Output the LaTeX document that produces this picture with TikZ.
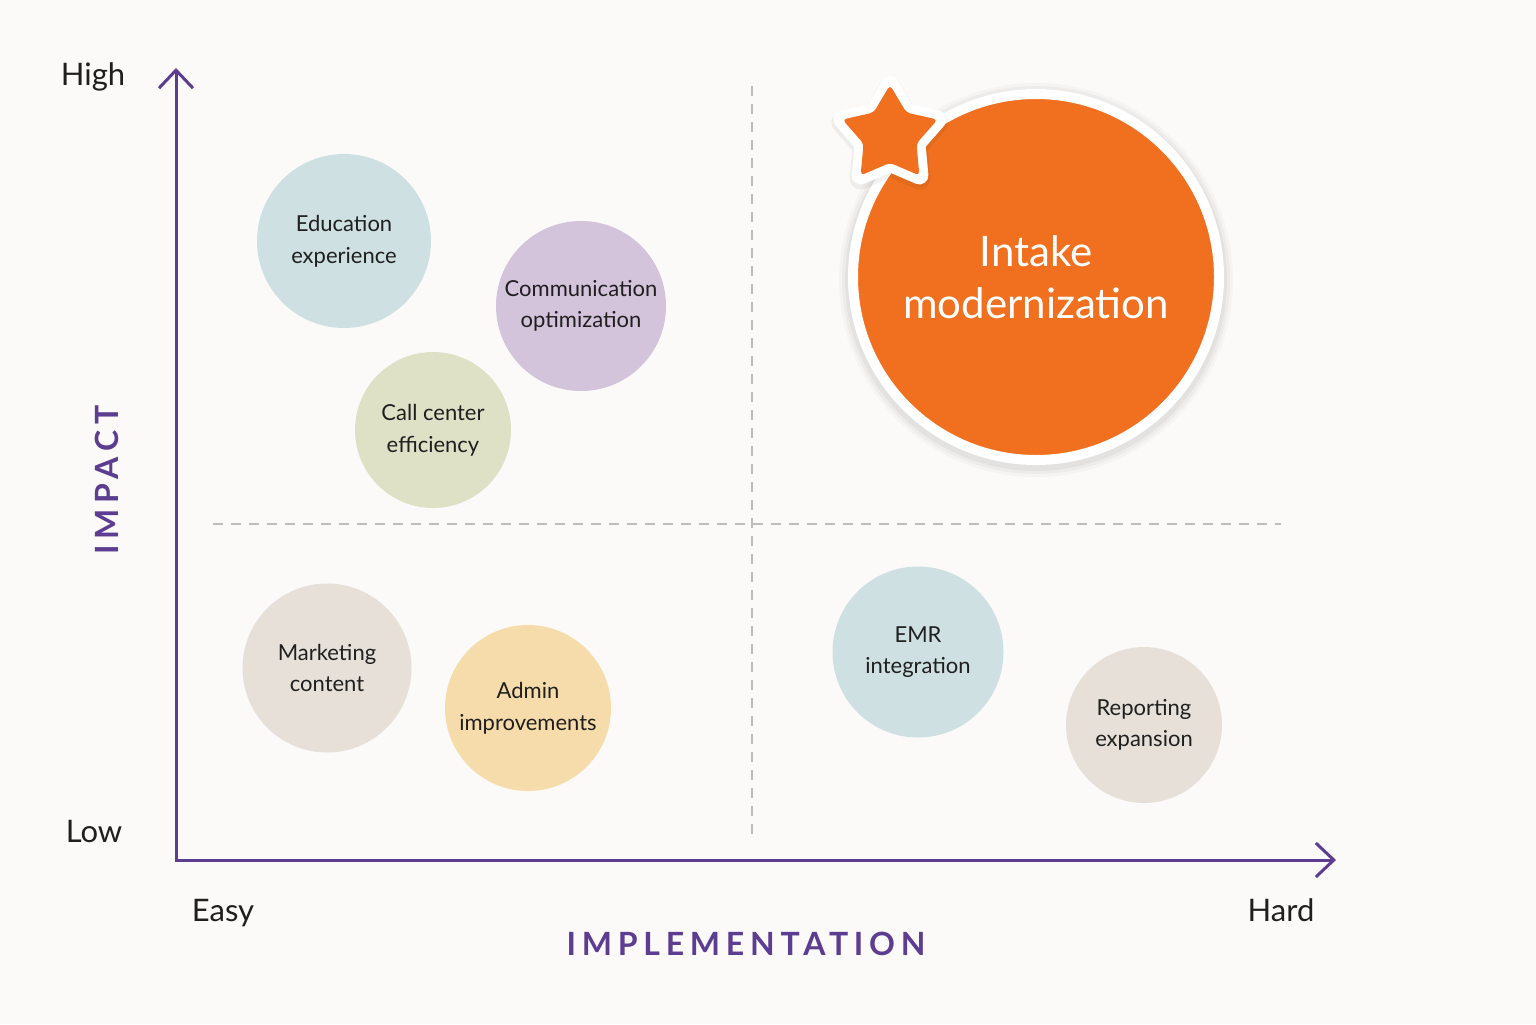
\documentclass[tikz,border=0pt]{standalone}
\usepackage{fontspec}
\setmainfont{Lato}
\usetikzlibrary{arrows.meta,shapes.geometric}
\definecolor{bg}{HTML}{FBFAF8}
\definecolor{axisc}{HTML}{5C3D91}
\definecolor{gridc}{HTML}{BDBDBD}
\definecolor{txt}{HTML}{1F1F1F}
\definecolor{cblue}{HTML}{CFE0E3}
\definecolor{clav}{HTML}{D3C3DB}
\definecolor{csage}{HTML}{DFE1C7}
\definecolor{cbeige}{HTML}{E6E0D9}
\definecolor{cyellow}{HTML}{F6DCAA}
\definecolor{corange}{HTML}{F0701F}
\tikzset{
  gridline/.style={draw=gridc, line width=1pt, dash pattern=on 5pt off 4pt},
  axisline/.style={draw=axisc, line width=1.5pt, line join=miter,
    {Straight Barb[length=9pt,width=17pt]}-{Straight Barb[length=9pt,width=17pt]}},
  axlabel/.style={font=\fontsize{15.5}{18}\selectfont, text=txt, anchor=base, inner sep=0},
  axtitle/.style={font=\fontsize{16}{18}\selectfont\bfseries\addfontfeatures{LetterSpace=18}, text=axisc, inner sep=0},
  bubble/.style={circle, inner sep=0, align=center, text=txt,
    font=\fontsize{11}{15.8}\selectfont},
  starshape/.style={star, star points=5, star point ratio=1.8, minimum size=50pt, inner sep=0},
}
\begin{document}
\begin{tikzpicture}[x=0.5pt,y=-0.5pt]
\fill[bg] (0,0) rectangle (1536,1024);
\useasboundingbox (0,0) rectangle (1536,1024);

% quadrant dividers
\coordinate (vt) at (752,86);
\coordinate (vb) at (752,835);
\coordinate (hl) at (213,524);
\coordinate (hr) at (1281,524);
\draw[gridline] (vt) -- (vb);
\draw[gridline] (hl) -- (hr);

% axes
\coordinate (O) at (176,860);
\coordinate (Ytip) at (176,68);
\coordinate (Xtip) at (1336,860);
\draw[axisline] (Ytip) -- (O) -- (Xtip);

% axis labels
\node[axlabel] (high) at (93,85) {High};
\node[axlabel] (low) at (94,842) {Low};
\node[axlabel] (easy) at (223,921) {Easy};
\node[axlabel] (hard) at (1281,921) {Hard};
\node[axtitle, rotate=90] (impact) at (107,480) {IMPACT};
\node[axtitle] (implementation) at (746,944) {IMPLEMENTATION};

% bubbles
\node[bubble, fill=cblue, minimum size=87pt] (edu) at (344,241) {Education\\experience};
\node[bubble, fill=clav, minimum size=85pt] (comm) at (581,306) {Communication\\optimization};
\node[bubble, fill=csage, minimum size=78pt] (call) at (433,430) {Call center\\efficiency};
\node[bubble, fill=cbeige, minimum size=84.5pt] (mkt) at (327,668) {Marketing\\content};
\node[bubble, fill=cyellow, minimum size=83pt] (admin) at (528,708) {Admin\\improvements};
\node[bubble, fill=cblue, minimum size=85.5pt] (emr) at (918,652) {EMR\\integration};
\node[bubble, fill=cbeige, minimum size=78pt] (rep) at (1144,725) {Reporting\\expansion};

% intake: soft shadow, white ring, orange disc
\foreach \r/\o in {197/0.025,194/0.03,191/0.04}
  \fill[black, opacity=\o] (1036,280) circle[radius=\r];
\node[circle, fill=corange, draw=white, line width=5pt, minimum size=183pt, inner sep=0,
      align=center, text=white, font=\fontsize{21}{26}\selectfont] (intake) at (1036,277)
      {Intake\\modernization};

% star
\node[starshape, fill=black, draw=black, opacity=0.05, line width=11pt, line join=round] (starshadow) at (890,138) {};
\node[starshape, fill=white, draw=white, line width=9pt, line join=round] (starring) at (890,135) {};
\node[starshape, fill=corange, rounded corners=2pt] (star) at (890,135) {};
\end{tikzpicture}
\end{document}
